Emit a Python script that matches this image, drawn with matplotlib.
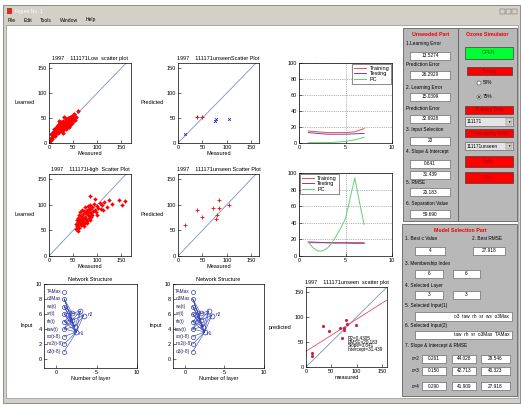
import matplotlib
matplotlib.use('Agg')
import matplotlib.pyplot as plt
from matplotlib.patches import Rectangle, Circle
import numpy as np

plt.rcParams['font.family'] = ['Liberation Sans', 'DejaVu Sans']

W, H = 521, 405

# ---- scatter data ----
low_meas = [2, 4, 5, 7, 8, 9, 10, 11, 12, 13,
            14, 15, 16, 17, 18, 19, 20, 21, 22, 23,
            24, 25, 26, 27, 28, 29, 30, 31, 32, 33,
            34, 35, 36, 37, 38, 39, 40, 41, 42, 43,
            44, 45, 46, 47, 48, 50, 52, 54, 56, 60,
            6, 12, 18, 24, 30, 36, 42, 48, 20, 32,
            15, 22, 28, 35, 40, 26, 18, 33, 45, 38,
            10, 14, 25, 30, 37, 44, 50, 53, 8, 21]
low_learn = [5, 10, 18, 12, 22, 15, 28, 20, 25, 17,
             30, 24, 35, 22, 28, 33, 26, 38, 30, 24,
             36, 29, 41, 33, 27, 38, 45, 34, 40, 30,
             42, 36, 48, 39, 33, 44, 50, 40, 46, 37,
             52, 43, 48, 55, 45, 50, 58, 47, 53, 65,
             8, 14, 20, 42, 20, 28, 32, 40, 45, 52,
             20, 26, 32, 30, 36, 24, 30, 40, 42, 47,
             18, 28, 30, 35, 38, 46, 44, 50, 14, 33]

high_meas = [55, 57, 58, 59, 60, 60, 61, 62, 62, 63,
             64, 65, 65, 66, 67, 68, 68, 69, 70, 70,
             71, 72, 73, 74, 75, 75, 76, 77, 78, 79,
             80, 81, 82, 83, 84, 85, 86, 88, 90, 92,
             94, 96, 98, 100, 102, 105, 108, 110, 115, 120,
             125, 130, 145, 152, 158, 85, 95, 60, 66, 72,
             78, 84, 90, 63, 70, 76, 82, 88, 100, 112]
high_learn = [52, 62, 70, 58, 66, 75, 60, 80, 68, 55,
              72, 64, 85, 60, 78, 70, 90, 66, 74, 62,
              82, 70, 88, 65, 76, 95, 72, 84, 68, 90,
              80, 98, 75, 86, 92, 78, 100, 84, 96, 88,
              102, 90, 86, 98, 94, 104, 92, 100, 106, 96,
              110, 102, 110, 100, 108, 118, 112, 48, 60, 58,
              64, 70, 80, 68, 70, 86, 92, 76, 80, 90]

unseen1_red_x = [38, 49]
unseen1_red_y = [52, 53]
unseen1_blue_x = [14, 75, 78, 104]
unseen1_blue_y = [18, 45, 49, 48]

unseen2_x = [14, 38, 50, 72, 84, 85, 79, 77, 105]
unseen2_y = [61, 90, 76, 94, 94, 110, 80, 73, 99]

s3_meas = [11, 11, 34, 46, 67, 72, 75, 79, 80, 99, 76]
s3_pred = [29, 23, 82, 72, 78, 59, 74, 95, 86, 84, 78]
s3_slope, s3_intercept = 0.641, 31.439
s3_stats = ['R2=0.4305', 'RMSE=20.183', 'Slope=0.641', 'Intercept=31.439']

# ---- error curves ----
layer_x = [1, 2, 3, 4, 5, 6, 7]
l1_train = [15, 14, 13, 13, 13, 14, 18]
l1_test = [13, 12, 11, 11, 11, 11.5, 12]
l1_pc = [0.5, 0.5, 0.5, 1, 2, 4, 7]
l2_train = [16, 16, 16, 15.5, 15.5, 15, 15]
l2_test = [17, 16.5, 16, 16, 16, 16, 16]
pc_x = [1, 1.5, 2, 2.5, 3, 3.5, 4, 4.5, 5, 5.5, 6, 6.5, 7]
l2_pc = [17, 10, 6, 6, 9, 15, 24, 34, 45, 70, 94, 65, 38]

# ---- network structure ----
net_inputs = ['TAMax', 'o3Max', 'ws(t)', 'sr(t)', 'rh(t)', 'taw(t)', 'co(t-8)', 'no2(t-8)', 'o3(t-8)']
net_in_y = [9, 8, 7, 6, 5, 4, 3, 2, 1]
hid_x = [2.0, 2.0, 2.3, 2.5]
hid_y = [6.1, 5.2, 4.3, 3.6]
out_x = [3.0, 3.4]
out_y = [6.4, 5.8]

# ---- GUI panel values ----
unseeded_labels = ['1.Learning Error', 'Prediction Error', '2. Learning Error', 'Prediction Error',
                   '3. Input Selection', '4. Slope & Intercept', '5. RMSE', '6. Separation Value']
unseeded_values = ['13.5274', '26.2929', '15.0399', '32.6928', '20', '0.641', '31.439', '20.183', '59.690']
best_c, best_rmse = '4', '27.918'
membership = ['6', '6']
sel_layer = ['3', '3']
sel_input1 = 'o3  taw  rh  sr  ws  o3Max'
sel_input2 = 'taw  rh  sr  o3Max  TAMax'
c_rows = ['c=2', 'c=3', 'c=4']
c_table = [['0.261', '44.028', '29.546'],
           ['0.150', '42.713', '40.323'],
           ['0.290', '41.909', '27.918']]


def rect(x0, y0, x1, y1):
    # pixel box -> figure fraction
    return [x0 / W, 1 - y1 / H, (x1 - x0) / W, (y1 - y0) / H]


fig = plt.figure(figsize=(W / 100, H / 100), dpi=100)
fig.patch.set_facecolor('white')

bg = fig.add_axes([0, 0, 1, 1])
bg.axis('off')


def box(x0, y0, x1, y1, fc='white', ec='#505050', lw=0.4):
    bg.add_patch(Rectangle((x0, y0), x1 - x0, y1 - y0, fc=fc, ec=ec, lw=lw))


def txt(x, y, s, size=3.4, **kw):
    kw.setdefault('va', 'center')
    bg.text(x, y, s, fontsize=size, **kw)


def field(x0, y0, x1, y1, s, ha='center'):
    box(x0, y0, x1, y1)
    tx = (x0 + x1) / 2 if ha == 'center' else x1 - 3
    txt(tx, (y0 + y1) / 2, s, ha=ha)


def button(x0, y0, x1, y1, s, fc='#ff0000', tc='#990000'):
    box(x0, y0, x1, y1, fc=fc, ec='#404040', lw=0.5)
    txt((x0 + x1) / 2, (y0 + y1) / 2, s, ha='center', color=tc)


def dropdown(x0, y0, x1, y1, s):
    box(x0, y0, x1, y1, fc='#e4e4e4')
    box(x1 - 7, y0 + 1, x1 - 1, y1 - 1, fc='#d4d0c8', ec='#707070', lw=0.3)
    txt(x0 + 2, (y0 + y1) / 2, s, ha='left')
    txt(x1 - 4, (y0 + y1) / 2, '\u25bc', size=2.5, ha='center')


# window frame, title bar and menu
box(3, 5, 520, 403, fc='#d4d0c8', ec='#808080', lw=0.6)
c0 = np.array([10, 36, 106]) / 255
c1 = np.array([166, 202, 240]) / 255
t = np.linspace(0, 1, 256)[None, :, None]
bg.imshow(c0 + (c1 - c0) * t, extent=(5, 519, 15, 7), aspect='auto')
box(7, 8, 12, 14, fc='#d03020', ec='none')
txt(15, 11, 'Figure No. 1', size=3.6, color='white', ha='left')
for bx in [502, 508, 514]:
    box(bx - 2.5, 8.5, bx + 2.5, 13.5, fc='#d4d0c8', ec='#606060', lw=0.3)
for mx, m in zip([8, 24, 40, 60, 86], ['File', 'Edit', 'Tools', 'Window', 'Help']):
    txt(mx, 20, m, size=3.6, ha='left')
box(6, 25, 518, 398, fc='white', ec='#909090', lw=0.5)

# right side panels
box(403, 28, 458, 221, fc='#b8b8b8', ec='#606060', lw=0.6)
box(458, 28, 517, 221, fc='#b8b8b8', ec='#606060', lw=0.6)
box(402, 224, 517, 396, fc='#b8b8b8', ec='#606060', lw=0.6)

txt(430.5, 34, 'Unseeded Part', size=3.8, color='#ee0000', ha='center', fontweight='bold')
label_y = [44, 64, 87, 109, 130, 152, 182, 203]
for ly, lab in zip(label_y, unseeded_labels):
    txt(406, ly, lab, ha='left')
field_y = [(52, 59.5), (71, 78.5), (93, 101), (115, 123), (137, 144.5),
           (160, 167.5), (171, 178.5), (188, 196), (210, 218)]
for (y0, y1), v in zip(field_y, unseeded_values):
    field(410, y0, 450, y1, v)

txt(487.5, 34, 'Ozone Simulator', size=3.8, color='#ee0000', ha='center', fontweight='bold')
button(465, 47, 513, 59, 'OPEN', fc='#00ff33', tc='#007a10')
button(467, 67, 512, 75, 'Setting')
for ry, lab, on in [(83, '50%', False), (97, '75%', True)]:
    bg.add_patch(Circle((479, ry), 2.0, fc='white', ec='#404040', lw=0.4))
    if on:
        bg.add_patch(Circle((479, ry), 0.9, fc='black', ec='none'))
    txt(483, ry, lab, ha='left')
button(465, 106, 513, 114, 'Training Data')
dropdown(465, 117, 513, 126, '111171')
button(465, 129, 513, 137, 'Forecasting Data')
dropdown(465, 142, 513, 150, '111171unseen')
button(465, 156, 513, 167, 'Indiv')
button(465, 172, 513, 183, 'Exit')

txt(460, 230, 'Model Selection Part', size=3.8, color='#ee0000', ha='center', fontweight='bold')
txt(405, 239, '1. Best c Value', ha='left')
txt(472, 239, '2. Best RMSE', ha='left')
field(415, 247, 445, 255, best_c)
field(473, 247, 505, 255, best_rmse)
txt(405, 263, '3. Membership Index', ha='left')
field(415, 270, 443, 277.5, membership[0])
field(453, 270, 480, 277.5, membership[1])
txt(405, 285, '4. Selected Layer', ha='left')
field(415, 291, 443, 299, sel_layer[0])
field(453, 291, 480, 299, sel_layer[1])
txt(405, 306, '5. Selected Input(1)', ha='left')
field(415, 312, 512, 321, sel_input1, ha='right')
txt(405, 325, '6. Selected Input(2)', ha='left')
field(415, 331, 512, 339, sel_input2, ha='right')
txt(405, 346, '7. Slope & Intercept & RMSE', ha='left')
for (y0, y1), cl, vals in zip([(355, 363), (367, 375), (382, 390)], c_rows, c_table):
    txt(419, (y0 + y1) / 2, cl, ha='right')
    for (x0, x1), v in zip([(422, 446), (452, 476), (481, 510)], vals):
        field(x0, y0, x1, y1, v)

bg.set_xlim(0, W)
bg.set_ylim(H, 0)


# ---- plot axes ----
def style(ax, title=None):
    ax.tick_params(direction='in', length=2, width=0.4, labelsize=4, pad=1.5)
    for s in ax.spines.values():
        s.set_linewidth(0.5)
    if title:
        ax.set_title(title, fontsize=4, pad=2.5)


def scatter_axes(r, title, ylabel, xlim=170):
    ax = fig.add_axes(rect(*r))
    ax.plot([0, 170], [0, 170], color='#8090c0', lw=0.6)
    ax.set_xlim(0, xlim)
    ax.set_ylim(0, 160)
    ax.set_xticks([0, 50, 100, 150])
    ax.set_yticks([0, 50, 100, 150])
    ax.set_xlabel('Measured', fontsize=4, labelpad=1)
    ax.set_ylabel(ylabel, fontsize=4, rotation=0, ha='right', va='center', labelpad=2)
    style(ax, title)
    return ax


a11 = scatter_axes((49, 63, 131, 143), '1997    111171Low  scatter plot', 'Learned')
a11.plot(low_meas, low_learn, '+', color='#ff0000', ms=3, mew=0.7)
a11.plot(low_meas, low_learn, '.', color='#ff0000', ms=3)

a21 = scatter_axes((49, 174, 131, 256), '1997    111171High  Scatter Plot', 'Learned')
a21.plot(high_meas, high_learn, '+', color='#ff0000', ms=3, mew=0.7)
a21.plot(high_meas, high_learn, '.', color='#ff0000', ms=2.5)

a12 = scatter_axes((178, 63, 259, 143), '1997    111171unseenScatter Plot', 'Predicted', xlim=166)
a12.plot(unseen1_red_x, unseen1_red_y, '+', color='#ff0000', ms=2.5, mew=0.7)
a12.plot(unseen1_blue_x, unseen1_blue_y, 'x', color='#3030c0', ms=2, mew=0.6)

a22 = scatter_axes((178, 174, 259, 256), '1997    111171unseen Scatter Plot', 'Predicted', xlim=166)
a22.plot(unseen2_x, unseen2_y, '+', color='#ff0000', ms=2.5, mew=0.6)


def line_axes(r, train, test, pc_xs, pc, loc):
    ax = fig.add_axes(rect(*r))
    ax.plot(layer_x, train, color='#e05050', lw=0.7, label='Training')
    ax.plot(layer_x, test, color='#8040a0', lw=0.7, label='Testing')
    ax.plot(pc_xs, pc, color='#60d070', lw=0.7, label='PC')
    ax.set_xlim(0, 10)
    ax.set_ylim(0, 100)
    ax.set_xticks([0, 5, 10])
    ax.set_yticks([0, 20, 40, 60, 80, 100])
    ax.grid(True, ls=':', lw=0.5, color='#707070')
    style(ax)
    leg = ax.legend(loc=loc, fontsize=4, fancybox=False, handlelength=2.2,
                    borderpad=0.3, labelspacing=0.1, handletextpad=0.6, borderaxespad=0.2)
    leg.get_frame().set_edgecolor('black')
    leg.get_frame().set_linewidth(0.4)
    return ax


line_axes((299, 63, 392, 143), l1_train, l1_test, layer_x, l1_pc, 'upper right')
line_axes((299, 173, 392, 256), l2_train, l2_test, pc_x, l2_pc, 'upper left')


def net_axes(r):
    ax = fig.add_axes(rect(*r))
    blue = '#3040b0'
    for yi in net_in_y[1:6]:
        for hx, hy in zip(hid_x, hid_y):
            ax.plot([1, hx], [yi, hy], color=blue, lw=0.4)
    for yi in net_in_y[6:]:
        ax.plot([1, hid_x[3]], [yi, hid_y[3]], color=blue, lw=0.4)
    for hx, hy in zip(hid_x, hid_y):
        for ox, oy in zip(out_x, out_y):
            ax.plot([hx, ox], [hy, oy], color=blue, lw=0.4)
    ax.plot([1] * len(net_in_y), net_in_y, 'o', mfc='none', mec=blue, ms=3, mew=0.5)
    ax.plot(hid_x, hid_y, 'o', mfc='none', mec=blue, ms=3.5, mew=0.5)
    ax.plot(out_x, out_y, 'o', mfc='none', mec=blue, ms=3.5, mew=0.5)
    for name, yi in zip(net_inputs, net_in_y):
        ax.text(-1.2, yi, name, fontsize=3.4, color='#202060', va='center', ha='left')
    ax.text(3.9, 6.0, 'n2', fontsize=3.4, color='#202060', va='center')
    ax.text(2.8, 3.4, 'n1', fontsize=3.4, color='#202060', va='center')
    ax.set_xlim(-1.5, 10)
    ax.set_ylim(-1.2, 10)
    ax.set_xticks([0, 5, 10])
    ax.set_yticks([0, 2, 4, 6, 8, 10])
    ax.set_xlabel('Number of layer', fontsize=4, labelpad=1)
    ax.set_ylabel('Input', fontsize=4, rotation=0, ha='right', va='center', labelpad=2)
    style(ax, 'Network Structure')
    return ax


net_axes((44, 284, 137, 368))
net_axes((173, 284, 264, 368))

s3 = fig.add_axes(rect(306, 287, 387, 367))
s3.plot([0, 160], [0, 160], color='#8090c0', lw=0.6)
lx = np.array([0, 160])
s3.plot(lx, s3_slope * lx + s3_intercept, color='#e05070', lw=0.6)
s3.plot(s3_meas, s3_pred, '.', color='#d02040', ms=2.5)
s3.set_xlim(0, 160)
s3.set_ylim(0, 160)
s3.set_xticks([0, 50, 100, 150])
s3.set_yticks([0, 50, 100, 150])
s3.set_xlabel('measured', fontsize=4, labelpad=1)
s3.set_ylabel('predicted', fontsize=4, rotation=0, ha='right', va='center', labelpad=2)
style(s3, '1997    111171unseen  scatter plot')
for i, s in enumerate(s3_stats):
    s3.text(82, 56 - i * 7, s, fontsize=3.3, va='center', ha='left', clip_on=False)

fig.savefig('out.png', dpi=100)
